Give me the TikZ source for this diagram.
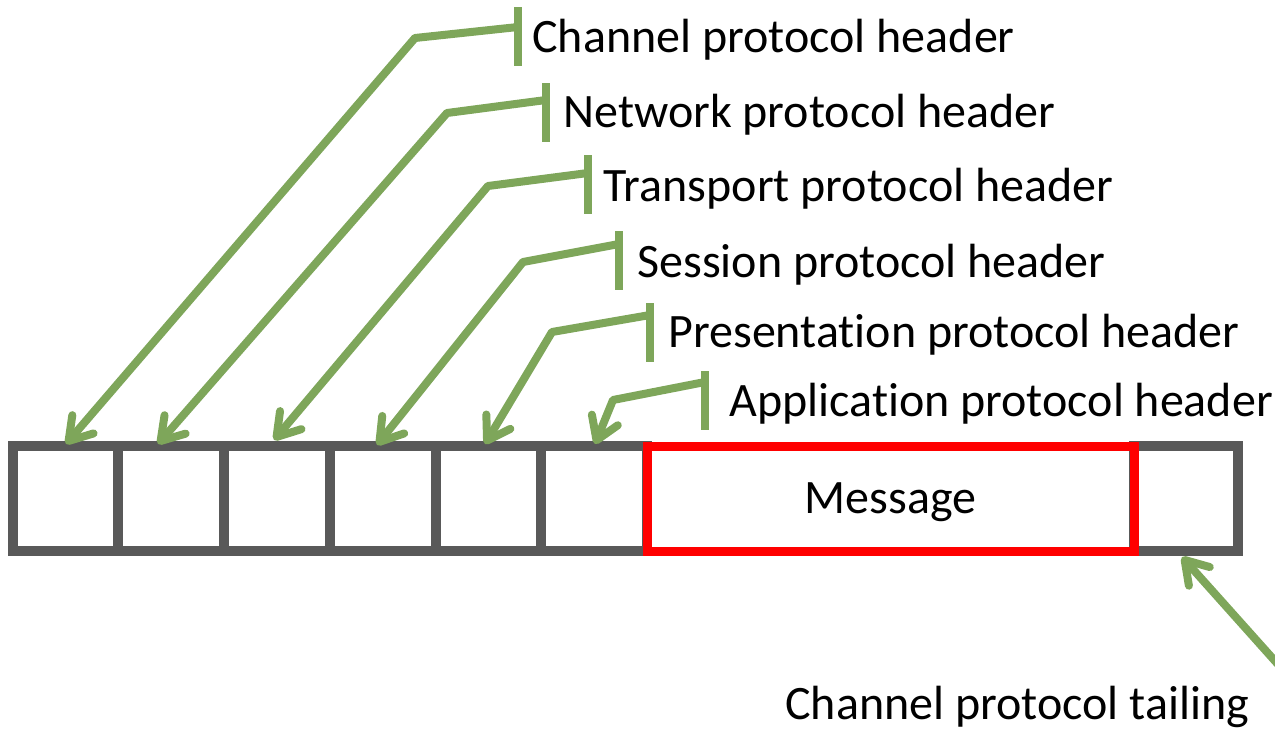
\documentclass[tikz,border=0pt]{standalone}
\usepackage{fontspec}
\setmainfont{Carlito}[Ligatures=NoCommon]
\usetikzlibrary{arrows.meta}

\definecolor{framegray}{RGB}{89,89,89}
\definecolor{leafgreen}{RGB}{126,166,90}

\tikzset{
  cell/.style={draw=framegray,line width=5pt,minimum width=52.9pt,minimum height=52.5pt,inner sep=0pt},
  msg/.style={draw=red,line width=4.5pt,minimum width=243.5pt,minimum height=52.5pt,inner sep=0pt,text depth=0pt,font=\fontsize{24pt}{28pt}\selectfont},
  tick/.style={fill=leafgreen,inner sep=0pt,minimum width=4pt,minimum height=29.5pt},
  callout/.style={draw=leafgreen,line width=4pt,line join=round,-{Straight Barb[length=11pt,width=14pt,round]}},
  lbl/.style={anchor=base west,inner sep=0pt,font=\fontsize{24pt}{28pt}\selectfont}
}

\begin{document}
\begin{tikzpicture}[x=0.5pt,y=-0.5pt]
      \useasboundingbox (0,0) rectangle (1275,733);

      % frame of the packet
      \node[cell] (c1) at (65.4,498.5){};
      \node[cell] (c2) at (171.1,498.5){};
      \node[cell] (c3) at (276.9,498.5){};
      \node[cell] (c4) at (382.6,498.5){};
      \node[cell] (c5) at (488.4,498.5){};
      \node[cell] (c6) at (594.1,498.5){};
      \node[cell,minimum width=52pt] (c8) at (1186,498.5){};
      \node[msg] (m) at (890.5,498.5){Message};

      % header labels
      \node[lbl] (l1) at (532,53){Channel protocol header};
      \node[lbl] (l2) at (563,127){Network protocol header};
      \node[lbl] (l3) at (603,201){Transport protocol header};
      \node[lbl] (l4) at (637,277){Session protocol header};
      \node[lbl] (l5) at (668,347){Presentation protocol header};
      \node[lbl] (l6) at (729,416){Application protocol header};
      \node[lbl] (l7) at (785,719){Channel protocol tailing};

      \node[tick] (t1) at (518,36.5){};
      \node[tick] (t2) at (546,112.5){};
      \node[tick] (t3) at (588,184.5){};
      \node[tick] (t4) at (619,260.5){};
      \node[tick] (t5) at (650,332.5){};
      \node[tick] (t6) at (705,400){};

      \coordinate (j1) at (518,27);
      \coordinate (j2) at (546,100);
      \coordinate (j3) at (588,173);
      \coordinate (j4) at (619,244);
      \coordinate (j5) at (650,315);
      \coordinate (j6) at (705,382);

      \coordinate (b1) at (415,38);
      \coordinate (b2) at (447,113);
      \coordinate (b3) at (488,186);
      \coordinate (b4) at (523,262);
      \coordinate (b5) at (552,332);
      \coordinate (b6) at (613,400);

      \coordinate (p1) at (66,444);
      \coordinate (p2) at (158,444);
      \coordinate (p3) at (274,440);
      \coordinate (p4) at (377,445);
      \coordinate (p5) at (485,444);
      \coordinate (p6) at (595,444);
      \coordinate (p7) at (1182,557);
      \coordinate (s7) at (1292,680);

      \draw[callout] (j1) -- (b1) -- (p1);
      \draw[callout] (j2) -- (b2) -- (p2);
      \draw[callout] (j3) -- (b3) -- (p3);
      \draw[callout] (j4) -- (b4) -- (p4);
      \draw[callout] (j5) -- (b5) -- (p5);
      \draw[callout] (j6) -- (b6) -- (p6);
      \draw[callout] (s7) -- (p7);
\end{tikzpicture}
\end{document}
